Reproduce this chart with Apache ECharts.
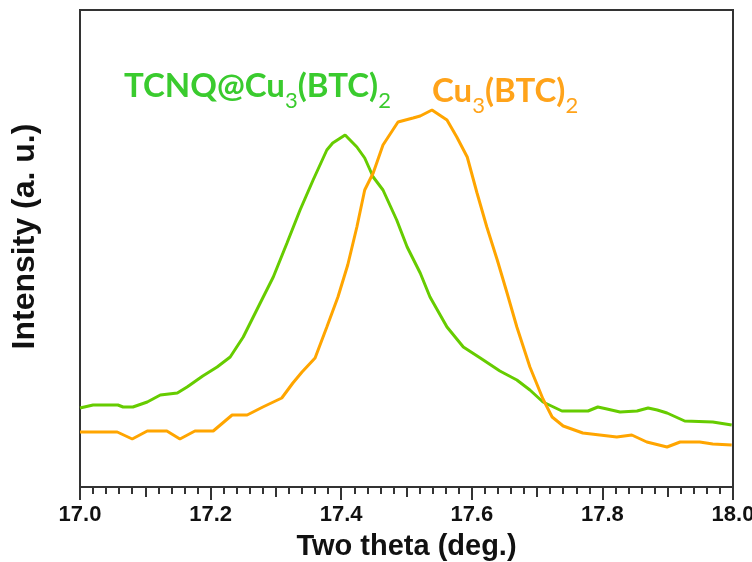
<!DOCTYPE html>
<html>
<head>
<meta charset="utf-8">
<script src="https://cdn.jsdelivr.net/npm/echarts@6/dist/echarts.min.js"></script>
<style>
  html, body { margin: 0; padding: 0; background: #fff; }
  #chart { width: 752px; height: 562px; }
</style>
</head>
<body>
<div id="chart"></div>
<script>
// TCNQ@Cu3(BTC)2 (green)
var tcnqX = [17.000, 17.020, 17.058, 17.066, 17.081, 17.103, 17.123, 17.149, 17.164, 17.188,
  17.210, 17.230, 17.250, 17.276, 17.296, 17.317, 17.337, 17.357, 17.378, 17.387,
  17.406, 17.424, 17.436, 17.449, 17.464, 17.485, 17.501, 17.521, 17.536, 17.562,
  17.587, 17.613, 17.643, 17.669, 17.689, 17.709, 17.738, 17.778, 17.793, 17.807,
  17.827, 17.853, 17.870, 17.884, 17.899, 17.926, 17.969, 17.998];
var tcnqY = [79, 82, 82, 80, 80, 85, 92, 94, 100, 111,
  120, 130, 150, 184, 210, 244, 277, 307, 337, 344,
  352, 340, 329, 310, 297, 267, 240, 214, 190, 160,
  140, 129, 116, 107, 97, 85, 76, 76, 80, 78,
  75, 76, 79, 77, 74, 66, 65, 62];

// Cu3(BTC)2 (orange)
var cuX = [17.000, 17.057, 17.080, 17.103, 17.133, 17.153, 17.176, 17.204, 17.233, 17.256,
  17.280, 17.309, 17.326, 17.340, 17.360, 17.378, 17.395, 17.410, 17.424, 17.436,
  17.449, 17.464, 17.487, 17.510, 17.521, 17.539, 17.562, 17.577, 17.593, 17.608,
  17.623, 17.639, 17.654, 17.669, 17.689, 17.709, 17.723, 17.740, 17.770, 17.796,
  17.822, 17.845, 17.868, 17.899, 17.919, 17.949, 17.969, 17.998];
var cuY = [55, 55, 48, 56, 56, 48, 56, 56, 72, 72,
  80, 89, 104, 115, 129, 160, 190, 222, 260, 297,
  314, 342, 365, 369, 371, 377, 367, 350, 330, 294,
  260, 227, 194, 160, 120, 88, 70, 61, 54, 52,
  50, 52, 45, 40, 45, 45, 43, 42];

function pairs(xs, ys) {
  return xs.map(function (x, i) { return [x, ys[i]]; });
}

var axisFont = "'Liberation Sans', Arial, sans-serif";
var noteFont = "Lato, 'Open Sans', sans-serif";

var option = {
  animation: false,
  grid: {
    left: 80, right: 19, top: 10, bottom: 75,
    outerBoundsMode: 'none',
    show: true, borderColor: '#333', borderWidth: 2
  },
  xAxis: [
    {
      type: 'value', min: 17, max: 18, interval: 0.2,
      name: 'Two theta (deg.)', nameLocation: 'middle', nameGap: 45,
      nameTextStyle: { fontFamily: axisFont, fontWeight: 'bold', fontSize: 29, color: '#111' },
      axisLine: { lineStyle: { color: '#333', width: 2 } },
      axisTick: { length: 13, lineStyle: { color: '#333', width: 2 } },
      minorTick: { show: true, splitNumber: 10, length: 7, lineStyle: { color: '#333', width: 2 } },
      splitLine: { show: false },
      axisLabel: {
        margin: 17, fontFamily: axisFont, fontWeight: 'bold', fontSize: 22, color: '#111',
        formatter: function (v) { return v.toFixed(1); }
      }
    },
    {
      type: 'value', min: 17, max: 18, interval: 0.1, position: 'bottom',
      axisLine: { show: false },
      axisTick: { length: 10, lineStyle: { color: '#333', width: 2 } },
      axisLabel: { show: false },
      splitLine: { show: false }
    }
  ],
  yAxis: {
    type: 'value', min: 0, max: 477,
    name: 'Intensity (a. u.)', nameLocation: 'middle', nameGap: 39,
    nameTextStyle: { fontFamily: axisFont, fontWeight: 'bold', fontSize: 32, color: '#111', padding: [0, 0, 0, 24] },
    axisLine: { show: true, lineStyle: { color: '#333', width: 2 } },
    axisTick: { show: false },
    axisLabel: { show: false },
    splitLine: { show: false }
  },
  graphic: [
    {
      type: 'text', left: 124, top: 70,
      style: {
        text: '{b|TCNQ@Cu}{s|3}{b|(BTC)}{s|2}',
        rich: {
          b: { fontFamily: noteFont, fontWeight: 'bold', fontSize: 33, fill: '#3ACB2E', verticalAlign: 'bottom' },
          s: { fontFamily: noteFont, fontSize: 22, fill: '#3ACB2E', verticalAlign: 'bottom', padding: [0, 0, -9, 0] }
        }
      }
    },
    {
      type: 'text', left: 432, top: 75,
      style: {
        text: '{b|Cu}{s|3}{b|(BTC)}{s|2}',
        rich: {
          b: { fontFamily: noteFont, fontWeight: 'bold', fontSize: 33, fill: '#FFA31A', verticalAlign: 'bottom' },
          s: { fontFamily: noteFont, fontSize: 22, fill: '#FFA31A', verticalAlign: 'bottom', padding: [0, 0, -9, 0] }
        }
      }
    }
  ],
  series: [
    {
      name: 'TCNQ@Cu3(BTC)2', type: 'line', showSymbol: false,
      lineStyle: { color: '#66CC00', width: 3 },
      data: pairs(tcnqX, tcnqY)
    },
    {
      name: 'Cu3(BTC)2', type: 'line', showSymbol: false,
      lineStyle: { color: '#FFA500', width: 3 },
      data: pairs(cuX, cuY)
    }
  ]
};

var myChart = echarts.init(document.getElementById('chart'));
myChart.setOption(option);
</script>
</body>
</html>
